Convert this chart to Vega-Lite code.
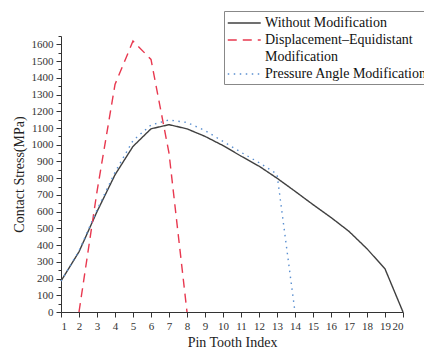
{
  "$schema": "https://vega.github.io/schema/vega-lite/v6.json",
  "width": 342,
  "height": 276,
  "autosize": "none",
  "padding": {"left": 61, "top": 36, "right": 21, "bottom": 42},
  "config": {
    "font": "Liberation Serif",
    "view": {"stroke": null},
    "axis": {
      "labelFont": "Liberation Serif",
      "titleFont": "Liberation Serif",
      "grid": false,
      "domainColor": "#333333",
      "tickColor": "#333333",
      "labelColor": "#333333",
      "titleColor": "#222222",
      "labelFontSize": 11,
      "titleFontSize": 14,
      "titleFontWeight": "normal"
    },
    "legend": {"labelFont": "Liberation Serif"}
  },
  "data": {
    "values": [
      {"tooth": 1, "stress": 185, "series": "Without Modification"},
      {"tooth": 2, "stress": 360, "series": "Without Modification"},
      {"tooth": 3, "stress": 600, "series": "Without Modification"},
      {"tooth": 4, "stress": 820, "series": "Without Modification"},
      {"tooth": 5, "stress": 990, "series": "Without Modification"},
      {"tooth": 6, "stress": 1095, "series": "Without Modification"},
      {"tooth": 7, "stress": 1120, "series": "Without Modification"},
      {"tooth": 8, "stress": 1095, "series": "Without Modification"},
      {"tooth": 9, "stress": 1050, "series": "Without Modification"},
      {"tooth": 10, "stress": 995, "series": "Without Modification"},
      {"tooth": 11, "stress": 932, "series": "Without Modification"},
      {"tooth": 12, "stress": 872, "series": "Without Modification"},
      {"tooth": 13, "stress": 800, "series": "Without Modification"},
      {"tooth": 14, "stress": 722, "series": "Without Modification"},
      {"tooth": 15, "stress": 642, "series": "Without Modification"},
      {"tooth": 16, "stress": 565, "series": "Without Modification"},
      {"tooth": 17, "stress": 482, "series": "Without Modification"},
      {"tooth": 18, "stress": 378, "series": "Without Modification"},
      {"tooth": 19, "stress": 258, "series": "Without Modification"},
      {"tooth": 20, "stress": 0, "series": "Without Modification"},
      {"tooth": 2, "stress": 0, "series": "Displacement–Equidistant Modification"},
      {"tooth": 3, "stress": 720, "series": "Displacement–Equidistant Modification"},
      {"tooth": 4, "stress": 1360, "series": "Displacement–Equidistant Modification"},
      {"tooth": 5, "stress": 1620, "series": "Displacement–Equidistant Modification"},
      {"tooth": 6, "stress": 1510, "series": "Displacement–Equidistant Modification"},
      {"tooth": 7, "stress": 950, "series": "Displacement–Equidistant Modification"},
      {"tooth": 8, "stress": 0, "series": "Displacement–Equidistant Modification"},
      {"tooth": 1, "stress": 185, "series": "Pressure Angle Modification"},
      {"tooth": 2, "stress": 365, "series": "Pressure Angle Modification"},
      {"tooth": 3, "stress": 610, "series": "Pressure Angle Modification"},
      {"tooth": 4, "stress": 835, "series": "Pressure Angle Modification"},
      {"tooth": 5, "stress": 1025, "series": "Pressure Angle Modification"},
      {"tooth": 6, "stress": 1118, "series": "Pressure Angle Modification"},
      {"tooth": 7, "stress": 1148, "series": "Pressure Angle Modification"},
      {"tooth": 8, "stress": 1133, "series": "Pressure Angle Modification"},
      {"tooth": 9, "stress": 1085, "series": "Pressure Angle Modification"},
      {"tooth": 10, "stress": 1020, "series": "Pressure Angle Modification"},
      {"tooth": 11, "stress": 955, "series": "Pressure Angle Modification"},
      {"tooth": 12, "stress": 893, "series": "Pressure Angle Modification"},
      {"tooth": 13, "stress": 825, "series": "Pressure Angle Modification"},
      {"tooth": 14, "stress": 0, "series": "Pressure Angle Modification"}
    ]
  },
  "layer": [
    {
      "mark": {"type": "line", "strokeWidth": 1.4},
      "encoding": {
        "x": {
          "field": "tooth",
          "type": "quantitative",
          "scale": {"domain": [1, 20], "nice": false},
          "axis": {
            "values": [1,2,3,4,5,6,7,8,9,10,11,12,13,14,15,16,17,18,19,20],
            "title": "Pin Tooth Index",
            "labelFont": "Liberation Serif",
            "titleFont": "Liberation Serif",
            "format": "d",
            "labelOverlap": false,
            "tickSize": 5,
            "labelPadding": 3,
            "titlePadding": 4
          }
        },
        "y": {
          "field": "stress",
          "type": "quantitative",
          "scale": {"domain": [0, 1650], "nice": false},
          "axis": {
            "values": [0,100,200,300,400,500,600,700,800,900,1000,1100,1200,1300,1400,1500,1600],
            "title": "Contact Stress(MPa)",
            "labelFont": "Liberation Serif",
            "titleFont": "Liberation Serif",
            "format": "d",
            "labelOverlap": false,
            "tickSize": 5,
            "labelPadding": 3,
            "titlePadding": 5
          }
        },
        "color": {
          "field": "series",
          "type": "nominal",
          "scale": {
            "domain": ["Without Modification", "Displacement–Equidistant Modification", "Modification", "Pressure Angle Modification"],
            "range": ["#404040", "#e8384f", "rgba(0,0,0,0)", "#5a8fd0"]
          },
          "legend": {
            "title": null,
            "orient": "none",
            "legendX": 163,
            "legendY": -25,
            "symbolType": "M-1,0H3",
            "symbolSize": 272,
            "symbolStrokeWidth": 1.4,
            "symbolFillColor": "transparent",
            "labelFontSize": 14,
            "labelColor": "#111111",
            "labelOffset": 20,
            "labelLimit": 400,
            "rowPadding": 1,
            "padding": 3,
            "strokeColor": "#888888",
            "fillColor": "#ffffff",
            "labelExpr": "datum.label == 'Displacement–Equidistant Modification' ? 'Displacement–Equidistant' : datum.label"
          }
        },
        "strokeDash": {
          "field": "series",
          "type": "nominal",
          "scale": {
            "domain": ["Without Modification", "Displacement–Equidistant Modification", "Modification", "Pressure Angle Modification"],
            "range": [[1, 0], [9, 6], [1, 0], [1.5, 4.5]]
          },
          "legend": {
            "title": null,
            "orient": "none",
            "legendX": 163,
            "legendY": -25,
            "symbolType": "M-1,0H3",
            "symbolSize": 272,
            "symbolStrokeWidth": 1.4,
            "symbolFillColor": "transparent",
            "labelFontSize": 14,
            "labelColor": "#111111",
            "labelOffset": 20,
            "labelLimit": 400,
            "rowPadding": 1,
            "padding": 3,
            "strokeColor": "#888888",
            "fillColor": "#ffffff",
            "labelExpr": "datum.label == 'Displacement–Equidistant Modification' ? 'Displacement–Equidistant' : datum.label"
          }
        }
      }
    },
    {
      "mark": {"type": "line", "opacity": 0},
      "encoding": {
        "x": {
          "field": "tooth",
          "type": "quantitative",
          "axis": {
            "values": [1,2,3,4,5,6,7,8,9,10,11,12,13,14,15,16,17,18,19,20],
            "title": "Pin Tooth Index",
            "labelFont": "Liberation Serif",
            "titleFont": "Liberation Serif",
            "format": "d",
            "labelOverlap": false,
            "tickSize": 5,
            "labelPadding": 3,
            "titlePadding": 4
          }
        },
        "y": {
          "field": "stress",
          "type": "quantitative",
          "axis": {
            "orient": "left",
            "values": [50,150,250,350,450,550,650,750,850,950,1050,1150,1250,1350,1450,1550,1650],
            "labels": false,
            "domain": false,
            "tickSize": 3,
            "title": null
          }
        },
        "detail": {"field": "series"}
      }
    }
  ],
  "resolve": {"axis": {"y": "independent"}}
}
